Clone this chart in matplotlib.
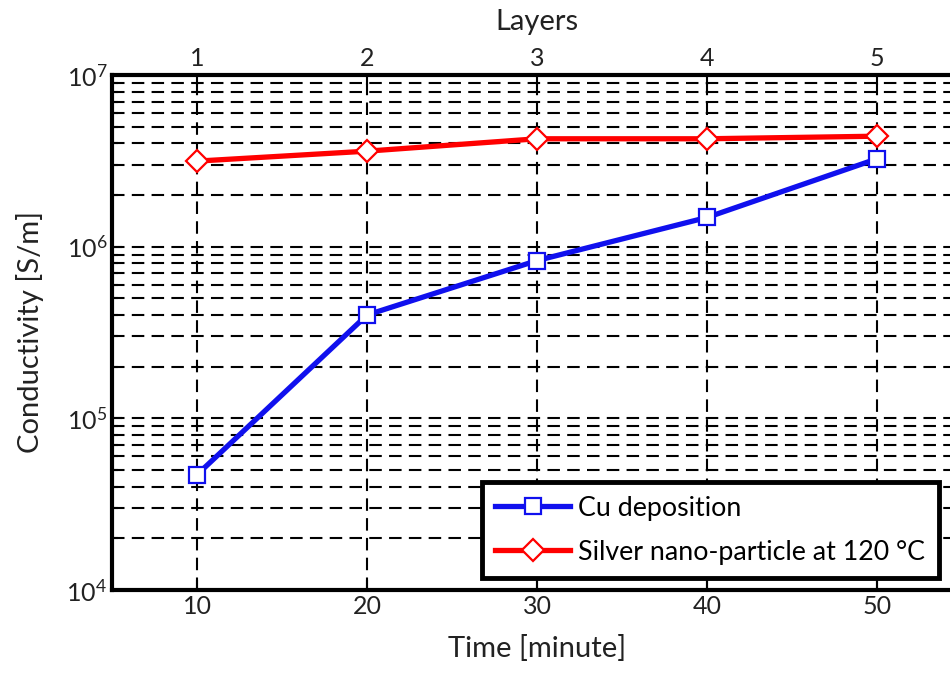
import numpy as np
import matplotlib.pyplot as plt
from matplotlib.ticker import LogLocator, NullFormatter

plt.rcParams['font.family'] = ['Lato', 'DejaVu Sans']

time_min = [10, 20, 30, 40, 50]
layers = ['1', '2', '3', '4', '5']
cu_deposition = [4.7e4, 4.0e5, 8.3e5, 1.48e6, 3.25e6]
silver_np = [3.15e6, 3.6e6, 4.25e6, 4.25e6, 4.4e6]

fig = plt.figure(figsize=(9.5, 6.73), dpi=100)
ax = fig.add_axes([0.118, 0.1233, 0.8947, 0.7653])

ax.plot(time_min, cu_deposition, color='#1010ee', lw=3.8, marker='s', ms=11,
        mfc='white', mec='#1010ee', mew=1.6, label='Cu deposition', zorder=5)
ax.plot(time_min, silver_np, color='#ff0000', lw=3.8, marker='D', ms=11,
        mfc='white', mec='#ff0000', mew=1.6,
        label='Silver nano-particle at 120 °C', zorder=5)

ax.set_yscale('log')
ax.set_ylim(1e4, 1e7)
ax.set_xlim(5, 55)
ax.set_xticks(time_min)
ax.yaxis.set_major_locator(LogLocator(base=10, numticks=10))
ax.yaxis.set_minor_locator(LogLocator(base=10, subs=np.arange(2, 10), numticks=20))
ax.yaxis.set_minor_formatter(NullFormatter())

dash = (0, (6, 3.5))
ax.grid(True, which='major', axis='x', color='black', ls=dash, lw=1.5)
ax.grid(True, which='both', axis='y', color='black', ls=dash, lw=1.5)

ax.tick_params(axis='both', which='both', direction='in', labelsize=18,
               width=1.5, colors='black', labelcolor='#222222')
ax.tick_params(which='major', length=7)
ax.tick_params(which='minor', length=4)

for s in ax.spines.values():
    s.set_linewidth(3)

ax.set_xlabel('Time [minute]', fontsize=21, color='#222222', labelpad=12)
ax.set_ylabel('Conductivity [S/m]', fontsize=21, color='#222222', labelpad=16)

top = ax.secondary_xaxis('top')
top.set_xticks(time_min)
top.set_xticklabels(layers)
top.tick_params(direction='in', length=7, width=1.5, labelsize=18,
                labelcolor='#222222')
top.set_xlabel('Layers', fontsize=21, color='#222222', labelpad=12)

leg = ax.legend(loc='lower left', bbox_to_anchor=(482 / 950, 1 - 578 / 673),
                bbox_transform=fig.transFigure, borderaxespad=0,
                fontsize=19.3, frameon=True,
                fancybox=False, edgecolor='black', handlelength=2.8,
                borderpad=0.5, labelspacing=0.7, handletextpad=0.3,
                framealpha=1)
leg.get_frame().set_linewidth(3.5)

fig.savefig('out.png', dpi=100)
